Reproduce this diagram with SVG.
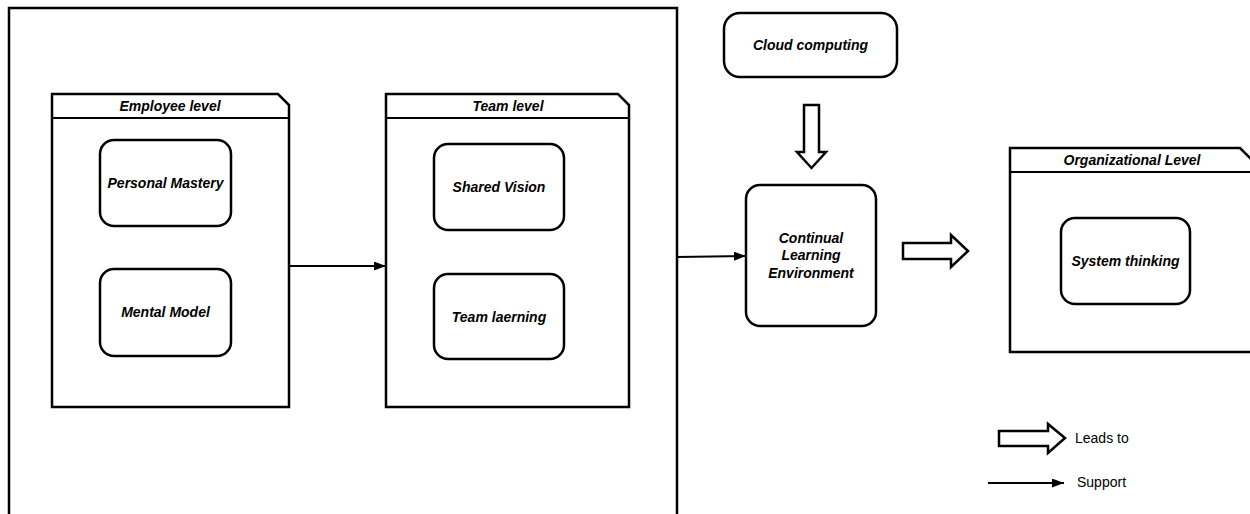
<svg xmlns="http://www.w3.org/2000/svg" width="1250" height="514" viewBox="0 0 1250 514">
<style>
.box{fill:#fff;stroke:#000;stroke-width:2.5}
.frame{fill:#fff;stroke:#000;stroke-width:2.5}
.rr{fill:#fff;stroke:#000;stroke-width:2.5}
.lbl{font-family:"Liberation Sans",Arial,sans-serif;font-size:14px;font-weight:bold;font-style:italic;fill:#000;text-anchor:middle}
.leg{font-family:"Liberation Sans",Arial,sans-serif;font-size:14px;fill:#000}
.ln{fill:none;stroke:#000;stroke-width:2}
.hollow{fill:#fff;stroke:#000;stroke-width:2.5;stroke-linejoin:miter}
</style>
<defs>
<marker id="ah" markerWidth="12" markerHeight="9" refX="12" refY="4.5" orient="auto" markerUnits="userSpaceOnUse">
<path d="M0,0 L12,4.5 L0,9 Z" fill="#000"/>
</marker>
</defs>
<rect width="1250" height="514" fill="#fff"/>
<g id="outer"><rect class="box" x="9" y="8" width="668" height="520"/></g>
<g id="employee-level">
<path class="frame" d="M52,94 L278,94 L289,105 L289,407 L52,407 Z"/>
<line class="ln" x1="52" y1="118" x2="289" y2="118" stroke-width="2.5"/>
<text class="lbl" x="170" y="111">Employee level</text>
</g>
<g id="personal-mastery">
<rect class="rr" x="100" y="140" width="131" height="86" rx="14"/>
<text class="lbl" x="165.5" y="188">Personal Mastery</text>
</g>
<g id="mental-model">
<rect class="rr" x="100" y="269" width="131" height="87" rx="14"/>
<text class="lbl" x="165.5" y="317">Mental Model</text>
</g>
<g id="team-level">
<path class="frame" d="M386,94 L618,94 L629,105 L629,407 L386,407 Z"/>
<line class="ln" x1="386" y1="118" x2="629" y2="118" stroke-width="2.5"/>
<text class="lbl" x="508" y="111">Team level</text>
</g>
<g id="shared-vision">
<rect class="rr" x="434" y="144" width="130" height="86" rx="14"/>
<text class="lbl" x="499" y="192">Shared Vision</text>
</g>
<g id="team-learning">
<rect class="rr" x="434" y="274" width="130" height="85" rx="14"/>
<text class="lbl" x="499" y="322">Team laerning</text>
</g>
<g id="cloud-computing">
<rect class="rr" x="724" y="13" width="173" height="64" rx="16"/>
<text class="lbl" x="810.5" y="50">Cloud computing</text>
</g>
<g id="continual-learning">
<rect class="rr" x="746" y="185" width="130" height="141" rx="14"/>
<text class="lbl" x="811" y="243">Continual</text>
<text class="lbl" x="811" y="260">Learning</text>
<text class="lbl" x="811" y="278">Environment</text>
</g>
<g id="organizational-level">
<path class="frame" d="M1010,148 L1240,148 L1252,160 L1252,352 L1010,352 Z"/>
<line class="ln" x1="1010" y1="172" x2="1252" y2="172" stroke-width="2.5"/>
<text class="lbl" x="1132" y="165">Organizational Level</text>
</g>
<g id="system-thinking">
<rect class="rr" x="1061" y="218" width="129" height="86" rx="14"/>
<text class="lbl" x="1125.5" y="266">System thinking</text>
</g>
<g id="connectors">
<line class="ln" x1="289" y1="266" x2="386" y2="266" marker-end="url(#ah)"/>
<line class="ln" x1="677" y1="257" x2="746" y2="256" marker-end="url(#ah)"/>
<path class="hollow" d="M804,105 L819,105 L819,152 L826,152 L811.5,168 L797,152 L804,152 Z"/>
<path class="hollow" d="M903,243 L951,243 L951,235 L968,251 L951,267 L951,259 L903,259 Z"/>
</g>
<g id="legend">
<path class="hollow" d="M999,431 L1048,431 L1048,424 L1065,438 L1048,453 L1048,446 L999,446 Z"/>
<text class="leg" x="1075" y="443">Leads to</text>
<line class="ln" x1="988" y1="483" x2="1064" y2="483" marker-end="url(#ah)"/>
<text class="leg" x="1077" y="487">Support</text>
</g>
</svg>
